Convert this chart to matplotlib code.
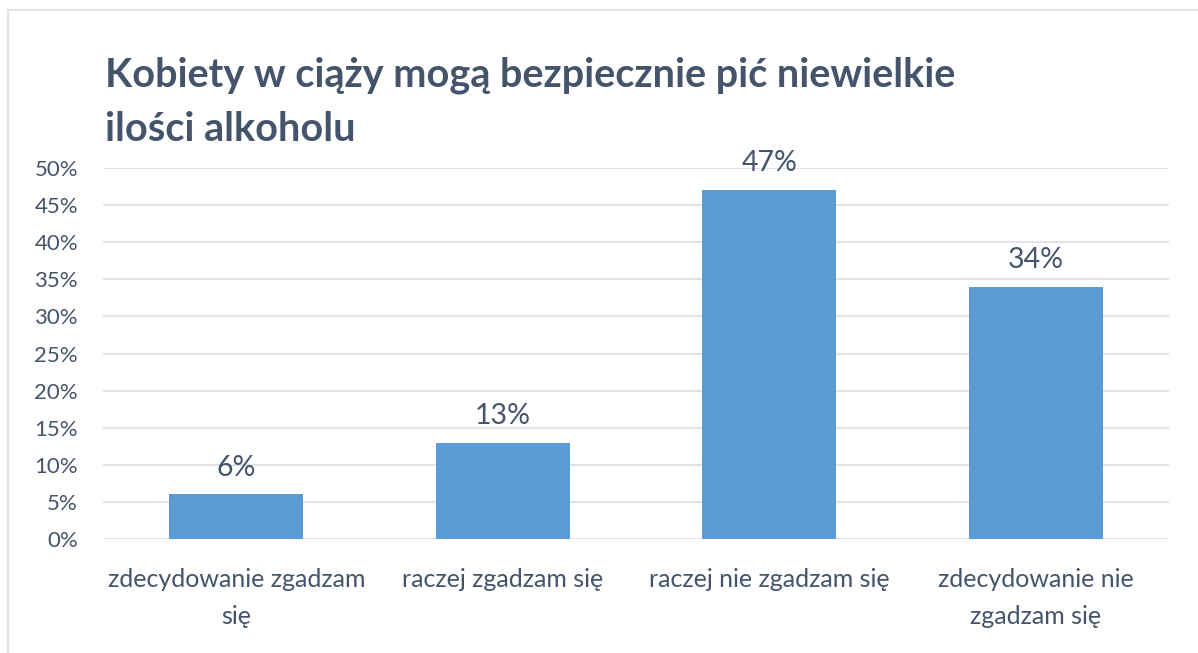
import matplotlib.pyplot as plt
from matplotlib.patches import Rectangle
from matplotlib.ticker import PercentFormatter

# data
categories = ['zdecydowanie zgadzam\nsię', 'raczej zgadzam się',
              'raczej nie zgadzam się', 'zdecydowanie nie\nzgadzam się']
values = [6, 13, 47, 34]
value_labels = ['6%', '13%', '47%', '34%']
title = 'Kobiety w ciąży mogą bezpiecznie pić niewielkie\nilości alkoholu'

text_color = '#44546A'
bar_color = '#5B9BD5'
grid_color = '#E1E4EA'

plt.rcParams['font.family'] = ['Lato', 'DejaVu Sans']

fig = plt.figure(figsize=(11.98, 6.53), dpi=100)

# outer chart border
fig.patches.append(Rectangle((8 / 1198, -0.1), 1.2, 0.1 + (1 - 10 / 653),
                             transform=fig.transFigure, fill=False,
                             edgecolor=grid_color, linewidth=1.5))

ax = fig.add_axes([103 / 1198, 1 - 539 / 653, 1066 / 1198, 371 / 653])

x = range(len(categories))
bars = ax.bar(x, values, width=0.503, color=bar_color, zorder=3)

for b, lab in zip(bars, value_labels):
    ax.annotate(lab, (b.get_x() + b.get_width() / 2, b.get_height()),
                xytext=(0, 10), textcoords='offset points',
                ha='center', va='bottom', fontsize=20.5, color=text_color)

ax.set_ylim(0, 50)
ax.set_xlim(-0.5, 3.5)
ax.set_yticks(range(0, 51, 5))
ax.yaxis.set_major_formatter(PercentFormatter(decimals=0))
ax.set_xticks(list(x))
ax.set_xticklabels(categories, linespacing=1.72)
ax.tick_params(axis='y', length=0, labelsize=16, labelcolor=text_color, pad=18)
ax.tick_params(axis='x', length=0, labelsize=18, labelcolor=text_color, pad=21)

ax.grid(axis='y', color=grid_color, linewidth=1.5, zorder=0)
for s in ax.spines.values():
    s.set_visible(False)

fig.text(105 / 1198, 1 - 56 / 653, title, ha='left', va='top',
         fontsize=28.5, fontweight='bold', color=text_color, linespacing=1.57)

fig.savefig('out.png', dpi=100)
